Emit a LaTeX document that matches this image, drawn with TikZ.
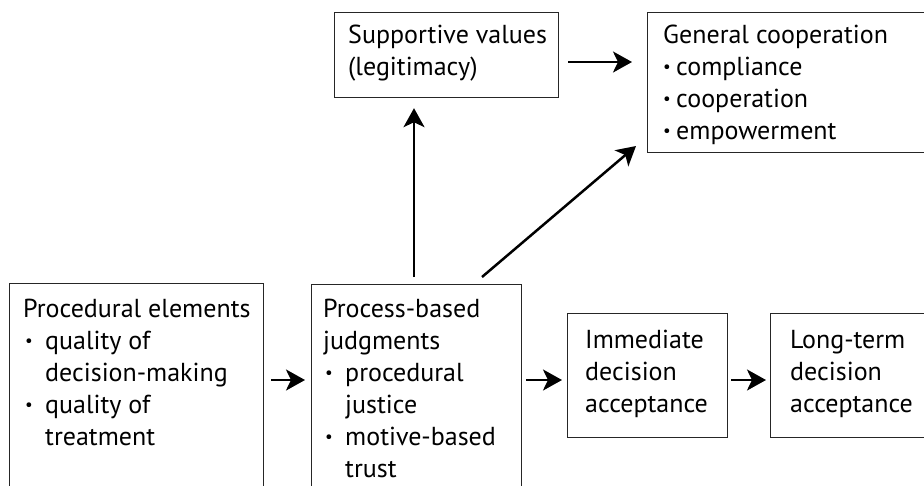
\documentclass[tikz,border=0pt]{standalone}
\usepackage{fontspec}
\setmainfont{PT Sans}
\usetikzlibrary{arrows.meta}
\newcommand\smallbul{\raisebox{2.5pt}{\fontsize{17}{17}\selectfont •}}
\newcommand\bitemA{\makebox[22pt][l]{\hspace{2pt}\smallbul}}
\newcommand\indA{\hspace*{22pt}}
\newcommand\bitemB{\makebox[13pt][l]{\smallbul}}
\begin{document}
\begin{tikzpicture}[x=1pt,y=-1pt,
  box/.style={draw=black!85, line width=1.2pt, inner sep=0pt, anchor=north west},
  txt/.style={anchor=north west, inner sep=0pt, align=left, font=\fontsize{26}{32}\selectfont},
  arr/.style={line width=2.5pt, -{Stealth[length=19pt,width=21pt,inset=5pt]}}]
\useasboundingbox (0,0) rectangle (924,485);
\clip (0,0) rectangle (924,485);
% boxes
\node[box, minimum width=254pt, minimum height=215pt] (B1) at (9,283) {};
\node[box, minimum width=210pt, minimum height=215pt] (B2) at (311,284) {};
\node[box, minimum width=160pt, minimum height=124pt] (B3) at (567,313) {};
\node[box, minimum width=160pt, minimum height=124pt] (B4) at (770,313) {};
\node[box, minimum width=224pt, minimum height=85pt] (B5) at (334,12) {};
\node[box, minimum width=283pt, minimum height=140pt] (B6) at (647,12) {};
% texts
\node[txt] (T1) at (23,294.6) {\strut Procedural elements\\\bitemA quality of\\\indA decision-making\\\bitemA quality of\\\indA treatment};
\node[txt] (T2) at (323,294.6) {\strut Process-based\\judgments\\\bitemA procedural\\\indA justice\\\bitemA motive-based\\\indA trust};
\node[txt] (T3) at (585,325.6) {\strut Immediate\\decision\\acceptance};
\node[txt] (T4) at (790,325.6) {\strut Long-term\\decision\\acceptance};
\node[txt] (T5) at (348,20.6) {\strut Supportive values\\(legitimacy)};
\node[txt] (T6) at (663,20.6) {\strut General cooperation\\\bitemB compliance\\\bitemB cooperation\\\bitemB empowerment};
% connectors
\coordinate (row) at (0,380);
\coordinate (top) at (0,62);
\coordinate (vx) at (414,0);
\coordinate (d1) at (482,277);
\coordinate (d2) at (636,146);
\draw[arr, shorten <=7pt, shorten >=6pt] (B1.east |- row) -- (B2.west |- row);
\draw[arr, shorten <=4pt, shorten >=5pt] (B2.east |- row) -- (B3.west |- row);
\draw[arr, shorten <=3pt, shorten >=4pt] (B3.east |- row) -- (B4.west |- row);
\draw[arr, shorten <=7pt, shorten >=10pt] (B2.north -| vx) -- (B5.south -| vx);
\draw[arr] (d1) -- (d2);
\draw[arr, shorten <=9pt, shorten >=15pt] (B5.east |- top) -- (B6.west |- top);
\end{tikzpicture}
\end{document}
